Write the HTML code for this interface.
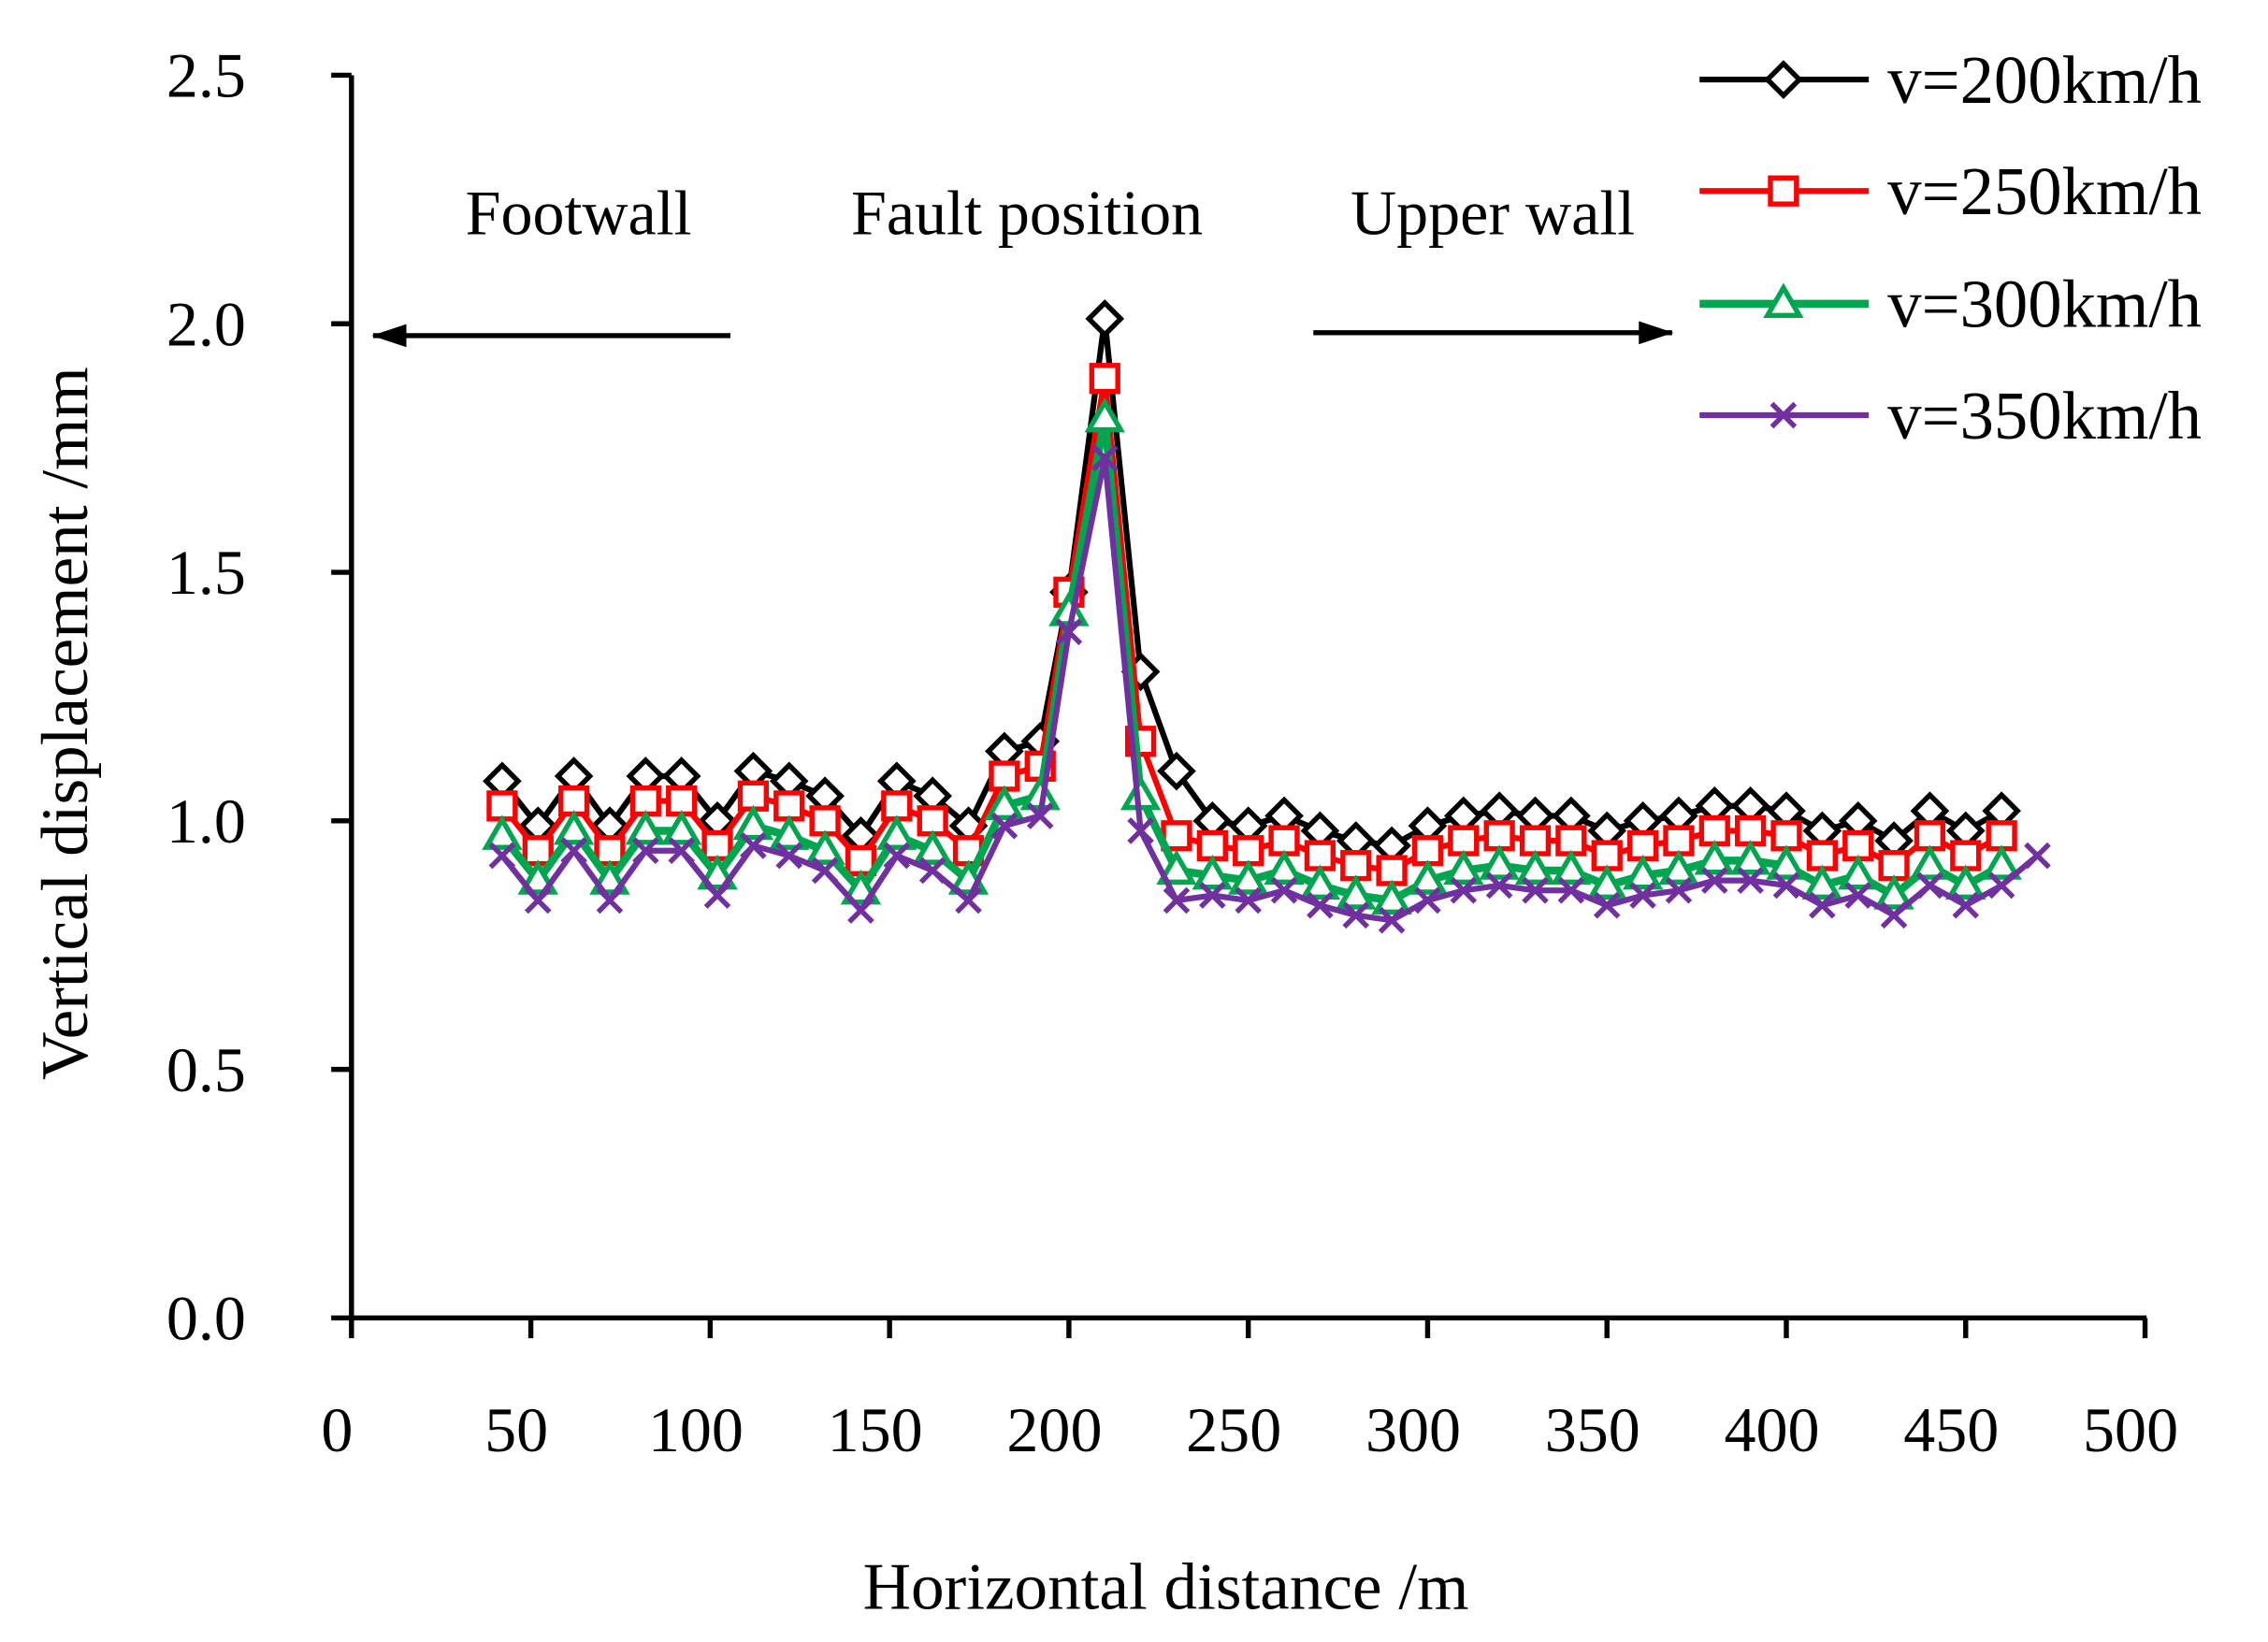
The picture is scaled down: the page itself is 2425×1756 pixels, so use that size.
<!DOCTYPE html>
<html><head><meta charset="utf-8"><style>
html,body{margin:0;padding:0;background:#fff;}
svg{display:block;}
text{font-family:"Liberation Serif",serif;fill:#000;}
</style></head><body>
<svg id="s" width="2425" height="1756" viewBox="0 0 1568 1135" preserveAspectRatio="none">
<defs>
<marker id="ah" markerWidth="24" markerHeight="16" refX="23" refY="8" orient="auto" markerUnits="userSpaceOnUse"><path d="M0,0 L24,8 L0,16 z" fill="#000"/></marker>
</defs>
<g id="axes" stroke="#000" stroke-width="3.5" fill="none">
<line x1="243" y1="52" x2="243" y2="912"/>
<line x1="242" y1="911" x2="1484" y2="911"/>
</g>
<g id="ticks" stroke="#000" stroke-width="3.5"></g>
<g id="lbl" font-size="44"></g>
<text x="806" y="1112" font-size="46" text-anchor="middle">Horizontal distance /m</text>
<text transform="translate(60,500) rotate(-90)" font-size="46" text-anchor="middle">Vertical displacement /mm</text>
<text x="400" y="162" font-size="44" text-anchor="middle">Footwall</text>
<text x="710" y="162" font-size="44" text-anchor="middle">Fault position</text>
<text x="1032" y="162" font-size="44" text-anchor="middle">Upper wall</text>
<line x1="505" y1="232" x2="258" y2="232" stroke="#000" stroke-width="3.5" marker-end="url(#ah)"/>
<line x1="908" y1="230" x2="1156" y2="230" stroke="#000" stroke-width="3.5" marker-end="url(#ah)"/>
<g id="series"></g>
<g id="legend"></g>
</svg>
<script>
var NS="http://www.w3.org/2000/svg";
function el(p,t,a,txt){var e=document.createElementNS(NS,t);for(var k in a)e.setAttribute(k,a[k]);if(txt!==undefined)e.textContent=txt;p.appendChild(e);return e;}
function X(x){return 243+x*2.48;}function Y(y){return 911-y*343.6;}
var tk=document.getElementById('ticks'),lb=document.getElementById('lbl');
for(var i=0;i<=5;i++){var y=Y(i*0.5);el(tk,'line',{x1:229,y1:y,x2:243,y2:y});el(lb,'text',{x:170,y:y+15,'text-anchor':'end'},(i*0.5).toFixed(1));}
for(var i=0;i<=10;i++){var x=X(i*50);el(tk,'line',{x1:x,y1:911,x2:x,y2:925});el(lb,'text',{x:x-10,y:1003,'text-anchor':'middle'},String(i*50));}
var xs=[42,52,62,72,82,92,102,112,122,132,142,152,162,172,182,192,200,210,220,230,240,250,260,270,280,290,300,310,320,330,340,350,360,370,380,390,400,410,420,430,440,450,460];
var b=[1.08,0.99,1.09,0.99,1.09,1.09,1.0,1.1,1.08,1.05,0.97,1.08,1.05,0.99,1.14,1.16,1.46,2.01,1.3,1.1,1.0,0.99,1.01,0.98,0.96,0.95,0.99,1.01,1.02,1.01,1.01,0.98,1.0,1.01,1.03,1.03,1.02,0.98,1.0,0.96,1.02,0.98,1.02];
function mk(off,peak,p200,p220,p230){return b.map(function(v,i){var x=xs[i];if(x==210)return peak;if(x==200)return p200;if(x==220)return p220;if(x==230)return p230;return v-off;});}
var S=[
{c:'#000',w:4,m:'d',d:b},
{c:'#f00',w:4,m:'s',d:mk(0.05,1.89,1.46,1.16,0.97)},
{c:'#00a550',w:5.5,m:'t',d:mk(0.11,1.81,1.42,1.05,0.9)},
{c:'#7030a0',w:4,m:'x',d:mk(0.15,1.73,1.38,0.98,0.84)}];
var sg=document.getElementById('series');
function marker(g,m,c,x,y){
 if(m=='d')el(g,'path',{d:'M'+x+','+(y-11)+'l11,11l-11,11l-11,-11z',fill:'#fff',stroke:c,'stroke-width':3.5});
 else if(m=='s')el(g,'rect',{x:x-9,y:y-9,width:18,height:18,fill:'#fff',stroke:c,'stroke-width':3.5});
 else if(m=='t')el(g,'path',{d:'M'+x+','+(y-11)+'l11,19l-22,0z',fill:'#fff',stroke:c,'stroke-width':3.5});
 else {el(g,'path',{d:'M'+(x-8)+','+(y-8)+'l16,16M'+(x+8)+','+(y-8)+'l-16,16',stroke:c,'stroke-width':3.5});}
}
S.forEach(function(s,si){
 var xx=xs.slice(),dd=s.d.slice();if(si==3){xx.push(470);dd.push(0.93);}
 var pts=xx.map(function(x,i){return X(x)+','+Y(dd[i]);}).join(' ');
 el(sg,'polyline',{points:pts,fill:'none',stroke:s.c,'stroke-width':s.w,'stroke-linejoin':'round'});
 xx.forEach(function(x,i){marker(sg,s.m,s.c,X(x),Y(dd[i]));});
});
var lg=document.getElementById('legend');var names=['v=200km/h','v=250km/h','v=300km/h','v=350km/h'];var ly=[55,132,210,287];
S.forEach(function(s,i){el(lg,'line',{x1:1175,y1:ly[i],x2:1292,y2:ly[i],stroke:s.c,'stroke-width':s.w});marker(lg,s.m,s.c,1233,ly[i]);el(lg,'text',{x:1305,y:ly[i]+16,'font-size':47},names[i]);});
</script>
</body></html>
